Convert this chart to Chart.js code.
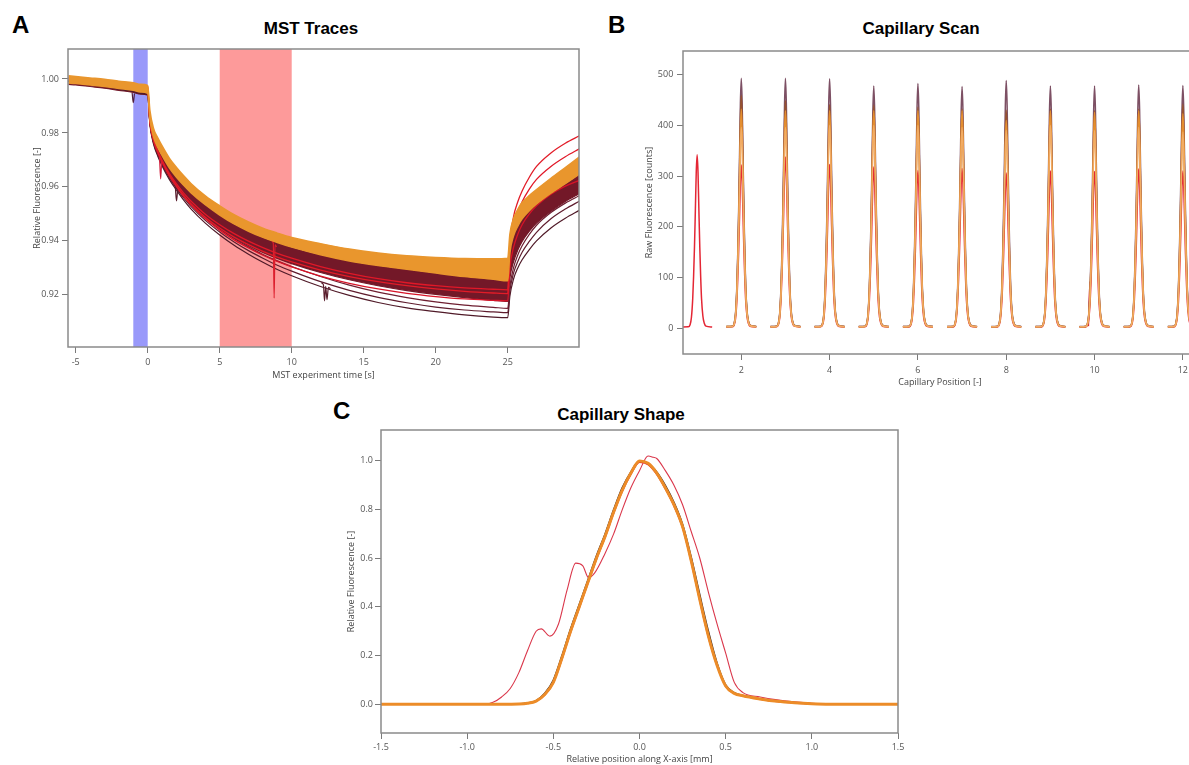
<!DOCTYPE html>
<html>
<head>
<meta charset="utf-8">
<script src="https://cdn.jsdelivr.net/npm/chart.js@4.4.1/dist/chart.umd.min.js"></script>
<style>
  body { margin: 0; width: 1189px; height: 765px; overflow: hidden; position: relative; background: #fff; font-family: "Liberation Sans", Arial, sans-serif; }
  .letter { position: absolute; font-weight: bold; font-size: 24px; line-height: 24px; color: #000; }
  .title { position: absolute; font-weight: bold; font-size: 17px; line-height: 17px; color: #000; transform: translateX(-50%); white-space: nowrap; }
  canvas { position: absolute; }
</style>
</head>
<body>
<div class="letter" style="left:12px;top:13px">A</div>
<div class="letter" style="left:608px;top:13px">B</div>
<div class="letter" style="left:333px;top:399px">C</div>
<div class="title" style="left:311px;top:20px">MST Traces</div>
<div class="title" style="left:921px;top:20px">Capillary Scan</div>
<div class="title" style="left:621px;top:406px">Capillary Shape</div>
<canvas id="chartA" width="600" height="390" style="left:0;top:0"></canvas>
<canvas id="chartB" width="600" height="392" style="left:600px;top:0"></canvas>
<canvas id="chartC" width="580" height="370" style="left:330px;top:395px"></canvas>
<script>
// ---------- Panel A: MST traces ----------
var aTime = [-5.5, -5, -4, -3, -2, -1, -0.5, 0, 0.15, 0.4, 0.7, 1, 1.5, 2, 2.5, 3, 4, 5, 6, 7, 8, 9, 10, 12, 14, 16, 18, 20, 22, 24, 25, 25.15, 25.4, 25.7, 26, 26.5, 27, 28, 29, 30];
var orangeTop = [1.0012, 1.0009, 1.0004, 0.9999, 0.9992, 0.9986, 0.9980, 0.9976,
  0.9885, 0.9818, 0.9782, 0.9752, 0.9707, 0.9672, 0.9641, 0.9613,
  0.9567, 0.9530, 0.9497, 0.9470, 0.9447, 0.9429, 0.9413, 0.9390, 0.9370, 0.9355, 0.9345, 0.9339, 0.9335, 0.9334, 0.9336,
  0.9425, 0.9482, 0.9517, 0.9542, 0.9568, 0.9590, 0.9632, 0.9672, 0.9712];
var orangeBottom = [0.9985, 0.9983, 0.9978, 0.9972, 0.9965, 0.9958, 0.9952, 0.9947,
  0.9852, 0.9786, 0.9746, 0.9716, 0.9671, 0.9636, 0.9606, 0.9579,
  0.9534, 0.9496, 0.9463, 0.9436, 0.9413, 0.9394, 0.9377, 0.9349, 0.9326, 0.9309, 0.9295, 0.9281, 0.9268, 0.9258, 0.9252,
  0.9355, 0.9418, 0.9455, 0.9482, 0.9512, 0.9537, 0.9577, 0.9612, 0.9648];
var maroonBottom = [0.9980, 0.9978, 0.9972, 0.9966, 0.9958, 0.9950, 0.9944, 0.9940,
  0.9838, 0.9768, 0.9724, 0.9690, 0.9640, 0.9600, 0.9566, 0.9536,
  0.9486, 0.9446, 0.9412, 0.9383, 0.9357, 0.9335, 0.9316, 0.9283, 0.9256, 0.9234, 0.9216, 0.9202, 0.9190, 0.9180, 0.9176,
  0.9262, 0.9322, 0.9366, 0.9398, 0.9436, 0.9466, 0.9510, 0.9546, 0.9576];
var dark1 = [0.9990, 0.9986, 0.9978, 0.9972, 0.9962, 0.9953, 0.9946, 0.9942,
  0.9832, 0.9760, 0.9714, 0.9678, 0.9628, 0.9588, 0.9551, 0.9519,
  0.9466, 0.9422, 0.9384, 0.9351, 0.9321, 0.9294, 0.9271, 0.9231, 0.9198, 0.9172, 0.9152, 0.9138, 0.9126, 0.9118, 0.9116,
  0.9195, 0.9258, 0.9300, 0.9330, 0.9368, 0.9400, 0.9448, 0.9484, 0.9514];
var dark2 = [0.9992, 0.9988, 0.9981, 0.9974, 0.9966, 0.9957, 0.9950, 0.9944,
  0.9836, 0.9764, 0.9719, 0.9684, 0.9634, 0.9595, 0.9559, 0.9528,
  0.9476, 0.9433, 0.9396, 0.9364, 0.9336, 0.9310, 0.9288, 0.9249, 0.9217, 0.9191, 0.9171, 0.9155, 0.9144, 0.9137, 0.9134,
  0.9215, 0.9280, 0.9324, 0.9358, 0.9398, 0.9432, 0.9482, 0.9518, 0.9548];
var dark3 = [0.9995, 0.9991, 0.9984, 0.9977, 0.9969, 0.9960, 0.9953, 0.9948,
  0.9840, 0.9770, 0.9726, 0.9691, 0.9642, 0.9603, 0.9568, 0.9538,
  0.9487, 0.9445, 0.9409, 0.9378, 0.9350, 0.9326, 0.9305, 0.9268, 0.9236, 0.9210, 0.9190, 0.9174, 0.9162, 0.9154, 0.9150,
  0.9232, 0.9300, 0.9348, 0.9382, 0.9424, 0.9458, 0.9505, 0.9540, 0.9568];
var red1 = [1.0006, 1.0004, 1.0000, 0.9994, 0.9988, 0.9982, 0.9978, 0.9972,
  0.9845, 0.9775, 0.9730, 0.9694, 0.9644, 0.9604, 0.9569, 0.9538,
  0.9488, 0.9448, 0.9414, 0.9386, 0.9361, 0.9340, 0.9322, 0.9292, 0.9268, 0.9249, 0.9234, 0.9222, 0.9213, 0.9207, 0.9205,
  0.9385, 0.9488, 0.9545, 0.9585, 0.9636, 0.9676, 0.9726, 0.9762, 0.9790];
var red2 = [0.9998, 0.9995, 0.9989, 0.9982, 0.9975, 0.9968, 0.9962, 0.9958,
  0.9842, 0.9772, 0.9727, 0.9692, 0.9641, 0.9601, 0.9565, 0.9534,
  0.9482, 0.9440, 0.9404, 0.9374, 0.9347, 0.9324, 0.9304, 0.9270, 0.9243, 0.9222, 0.9206, 0.9194, 0.9185, 0.9180, 0.9178,
  0.9300, 0.9375, 0.9425, 0.9460, 0.9500, 0.9530, 0.9573, 0.9603, 0.9625];
var red3 = [1.0002, 0.9999, 0.9993, 0.9987, 0.9980, 0.9974, 0.9968, 0.9963,
  0.9846, 0.9778, 0.9733, 0.9699, 0.9650, 0.9611, 0.9577, 0.9548,
  0.9499, 0.9460, 0.9427, 0.9399, 0.9375, 0.9354, 0.9336, 0.9305, 0.9280, 0.9260, 0.9245, 0.9234, 0.9226, 0.9221, 0.9219,
  0.9360, 0.9450, 0.9505, 0.9545, 0.9592, 0.9628, 0.9676, 0.9712, 0.9742];
// short glitches seen on single traces
var spikeRedT = [8.6, 8.72, 8.78, 8.84, 8.95];
var spikeRedV = [0.9400, 0.9392, 0.9188, 0.9385, 0.9378];
var spikeDarkT = [12.05, 12.2, 12.28, 12.36, 12.45, 12.55, 12.7];
var spikeDarkV = [0.9245, 0.9238, 0.9178, 0.9232, 0.9182, 0.9228, 0.9222];
var spikeEarlyT = [0.82, 0.9, 0.97];
var spikeEarlyV = [0.9712, 0.9630, 0.9700];
var spikeTwoT = [1.92, 2.0, 2.08];
var spikeTwoV = [0.9600, 0.9548, 0.9590];
var dipT = [-1.08, -1.0, -0.92];
var dipV = [0.9948, 0.9912, 0.9946];
var coldBand = [-1, 0];
var hotBand = [5, 10];
var aXTicks = [-5, 0, 5, 10, 15, 20, 25];
var aYTicks = [0.92, 0.94, 0.96, 0.98, 1.00];

// ---------- Panel B: capillary scan ----------
var capPositions = [1, 2, 3, 4, 5, 6, 7, 8, 9, 10, 11, 12];
var peakMauve = [null, 493, 493, 492, 478, 483, 477, 489, 478, 478, 480, 479];
var peakBrown = [null, 459, 449, 441, 440, 436, 432, 430, 432, 429, 432, 442];
var peakOrange = [null, 432, 429, 429, 429, 429, 429, 410, 429, 426, 429, 423];
var peakLight = [null, 396, 396, 400, 400, 400, 396, 390, 400, 390, 396, 387];
var peakRed = [342, 322, 338, 323, 318, 311, 315, 306, 310, 309, 314, 310];
var peakOffsets = [-0.34, -0.2, -0.16, -0.13, -0.1, -0.08, -0.06, -0.04, -0.02, 0, 0.02, 0.04, 0.06, 0.08, 0.1, 0.13, 0.16, 0.2, 0.34];
var peakShape = [0.007, 0.008, 0.02, 0.06, 0.17, 0.3, 0.47, 0.68, 0.9, 1, 0.9, 0.68, 0.47, 0.3, 0.17, 0.07, 0.03, 0.012, 0.007];
var glitchT = [9.86, 9.88, 9.9];
var glitchV = [4, 60, 92];
var bXTicks = [2, 4, 6, 8, 10, 12];
var bYTicks = [0, 100, 200, 300, 400, 500];

// ---------- Panel C: capillary shape ----------
var shapeX = [-1.5, -0.8, -0.7, -0.65, -0.6, -0.55, -0.5, -0.45, -0.4, -0.35, -0.3, -0.25, -0.2, -0.15, -0.1, -0.05, 0, 0.05, 0.1, 0.15, 0.2, 0.25, 0.3, 0.35, 0.4, 0.45, 0.5, 0.55, 0.6, 0.7, 0.8, 0.9, 1.0, 1.1, 1.5];
var shapeOrange = [0, 0, 0.001, 0.004, 0.013, 0.04, 0.09, 0.19, 0.3, 0.4, 0.5, 0.6, 0.69, 0.79, 0.88, 0.95, 1.0, 0.99, 0.95, 0.89, 0.82, 0.73, 0.59, 0.43, 0.28, 0.16, 0.075, 0.045, 0.035, 0.022, 0.012, 0.006, 0.002, 0, 0];
var shapeDark = [0, 0, 0.001, 0.005, 0.015, 0.045, 0.1, 0.2, 0.31, 0.41, 0.51, 0.61, 0.7, 0.8, 0.89, 0.955, 1.0, 0.99, 0.955, 0.9, 0.83, 0.74, 0.605, 0.45, 0.3, 0.17, 0.08, 0.048, 0.036, 0.022, 0.012, 0.006, 0.002, 0, 0];
var shapeRed = [0, 0, 0.001, 0.004, 0.012, 0.038, 0.088, 0.185, 0.295, 0.395, 0.495, 0.595, 0.685, 0.785, 0.875, 0.945, 0.995, 0.985, 0.945, 0.885, 0.815, 0.725, 0.585, 0.425, 0.275, 0.158, 0.074, 0.044, 0.034, 0.021, 0.011, 0.005, 0.002, 0, 0];
var outlierX = [-1.5, -0.9, -0.85, -0.8, -0.75, -0.7, -0.65, -0.6, -0.57, -0.52, -0.47, -0.42, -0.37, -0.33, -0.295, -0.26, -0.2, -0.15, -0.1, -0.05, 0, 0.05, 0.08, 0.1, 0.15, 0.2, 0.25, 0.3, 0.35, 0.4, 0.45, 0.5, 0.55, 0.6, 0.7, 0.8, 0.9, 1.0, 1.1, 1.5];
var outlierY = [0, 0, 0.008, 0.03, 0.065, 0.13, 0.22, 0.3, 0.31, 0.28, 0.33, 0.47, 0.58, 0.57, 0.52, 0.54, 0.62, 0.7, 0.8, 0.89, 0.96, 1.02, 1.015, 1.01, 0.96, 0.9, 0.82, 0.71, 0.6, 0.46, 0.33, 0.21, 0.09, 0.048, 0.03, 0.018, 0.01, 0.004, 0, 0];
var cXTicks = [-1.5, -1.0, -0.5, 0.0, 0.5, 1.0, 1.5];
var cYTicks = [0.0, 0.2, 0.4, 0.6, 0.8, 1.0];

// ---------- helpers ----------
var axisFont = { family: 'Open Sans', size: 9 };

function pairs(xs, ys) {
  return xs.map(function (x, i) { return { x: x, y: ys[i] }; });
}

function makeScale(o) {
  return {
    type: 'linear',
    min: o.min,
    max: o.max,
    afterBuildTicks: function (scale) {
      scale.ticks = o.ticks.map(function (v) { return { value: v }; });
    },
    afterFit: function (scale) {
      if (o.width) scale.width = o.width;
      if (o.height) scale.height = o.height;
    },
    grid: { display: true, drawOnChartArea: false, drawTicks: true, tickLength: 6, color: '#7a7a7a', lineWidth: 1 },
    border: { display: false },
    ticks: { font: axisFont, color: '#555', padding: o.pad, maxRotation: 0, minRotation: 0, autoSkip: false, callback: o.fmt },
    title: { display: true, text: o.title, font: axisFont, color: '#444', padding: o.titlePad }
  };
}

var framePlugin = {
  id: 'frame',
  afterDatasetsDraw: function (chart) {
    var a = chart.chartArea, ctx = chart.ctx;
    ctx.save();
    ctx.strokeStyle = '#8a8a8a';
    ctx.lineWidth = 1.5;
    ctx.strokeRect(a.left, a.top, a.right - a.left, a.bottom - a.top);
    ctx.restore();
  }
};

function baseOptions(padding, xScale, yScale) {
  return {
    responsive: false,
    animation: false,
    devicePixelRatio: 1,
    layout: { padding: padding, autoPadding: false },
    plugins: { legend: { display: false }, tooltip: { enabled: false } },
    elements: { point: { radius: 0 } },
    scales: { x: xScale, y: yScale }
  };
}

function line(data, color, width, order, extra) {
  var ds = { data: data, borderColor: color, backgroundColor: color, borderWidth: width, fill: false, order: order, cubicInterpolationMode: 'monotone' };
  for (var k in extra) ds[k] = extra[k];
  return ds;
}

// ---------- chart A ----------
var bandPlugin = {
  id: 'bands',
  beforeDatasetsDraw: function (chart) {
    var x = chart.scales.x, a = chart.chartArea, ctx = chart.ctx;
    ctx.save();
    ctx.fillStyle = 'rgb(153,153,250)';
    ctx.fillRect(x.getPixelForValue(coldBand[0]), a.top, x.getPixelForValue(coldBand[1]) - x.getPixelForValue(coldBand[0]), a.bottom - a.top);
    ctx.fillStyle = 'rgb(253,154,154)';
    ctx.fillRect(x.getPixelForValue(hotBand[0]), a.top, x.getPixelForValue(hotBand[1]) - x.getPixelForValue(hotBand[0]), a.bottom - a.top);
    ctx.restore();
  }
};

var orange = 'rgb(233,150,45)';
new Chart(document.getElementById('chartA').getContext('2d'), {
  type: 'line',
  data: {
    datasets: [
      line(pairs(aTime, orangeTop), orange, 1.5, 1, { fill: 1, backgroundColor: orange }),
      line(pairs(aTime, orangeBottom), orange, 1.5, 2),
      line(pairs(aTime, red1), 'rgb(226,28,40)', 1.3, 3),
      line(pairs(aTime, red3), 'rgb(225,24,40)', 1.3, 4),
      line(pairs(aTime, red2), 'rgb(215,20,40)', 1.3, 5),
      line(pairs(spikeRedT, spikeRedV), 'rgb(220,30,45)', 1.2, 3),
      line(pairs(spikeEarlyT, spikeEarlyV), 'rgb(210,30,60)', 1.2, 3),
      line(pairs(spikeDarkT, spikeDarkV), 'rgb(90,30,45)', 1.2, 6),
      line(pairs(spikeTwoT, spikeTwoV), 'rgb(90,30,45)', 1.2, 6),
      line(pairs(dipT, dipV), 'rgb(80,30,60)', 1.2, 6),
      line(pairs(aTime, dark3), 'rgb(110,30,48)', 1.2, 6),
      line(pairs(aTime, dark2), 'rgb(95,28,45)', 1.2, 7),
      line(pairs(aTime, dark1), 'rgb(80,26,40)', 1.2, 8),
      line(pairs(aTime, maroonBottom), 'rgb(115,24,40)', 1.2, 9, { fill: 1, backgroundColor: 'rgb(115,24,40)' })
    ]
  },
  options: baseOptions({ left: 0, top: 49, right: 21, bottom: 0 },
    makeScale({ min: -5.535, max: 29.95, ticks: aXTicks, height: 43, pad: 4.5, title: 'MST experiment time [s]', titlePad: { top: 0, bottom: 9.6 },
      fmt: function (v) { return String(v); } }),
    makeScale({ min: 0.9007, max: 1.0111, ticks: aYTicks, width: 68, pad: 3, title: 'Relative Fluorescence [-]', titlePad: { top: 32, bottom: 0 },
      fmt: function (v) { return v.toFixed(2); } })),
  plugins: [bandPlugin, framePlugin]
});

// ---------- chart B ----------
function scanTrace(heights) {
  var pts = [];
  capPositions.forEach(function (c, i) {
    if (heights[i] === null) return;
    peakOffsets.forEach(function (off, j) {
      pts.push({ x: c + off, y: heights[i] * peakShape[j] });
    });
    pts.push({ x: c + 0.5, y: null });
  });
  return pts;
}

new Chart(document.getElementById('chartB').getContext('2d'), {
  type: 'line',
  data: {
    datasets: [
      line(scanTrace(peakLight), 'rgb(242,172,100)', 1.5, 1, { spanGaps: false }),
      line(scanTrace(peakOrange), 'rgb(228,142,48)', 1.5, 2, { spanGaps: false }),
      line(scanTrace(peakBrown), 'rgb(150,82,48)', 1.5, 3, { spanGaps: false }),
      line(scanTrace(peakMauve), 'rgb(125,80,100)', 1.5, 4, { spanGaps: false }),
      line(scanTrace(peakRed), 'rgb(228,38,52)', 1.5, 5, { spanGaps: false }),
      line(pairs(glitchT, glitchV), 'rgb(210,40,50)', 1.5, 5)
    ]
  },
  options: baseOptions({ left: 0, top: 51, right: 3, bottom: 0 },
    makeScale({ min: 0.68, max: 12.32, ticks: bXTicks, height: 38, pad: 4.6, title: 'Capillary Position [-]', titlePad: { top: 0, bottom: 3.9 },
      fmt: function (v) { return String(v); } }),
    makeScale({ min: -51, max: 547, ticks: bYTicks, width: 83, pad: 3.7, title: 'Raw Fluorescence [counts]', titlePad: { top: 44, bottom: 0 },
      fmt: function (v) { return String(v); } })),
  plugins: [framePlugin]
});

// ---------- chart C ----------
new Chart(document.getElementById('chartC').getContext('2d'), {
  type: 'line',
  data: {
    datasets: [
      line(pairs(shapeX, shapeOrange), 'rgb(236,140,40)', 3, 1),
      line(pairs(shapeX, shapeDark), 'rgb(50,38,38)', 1.5, 2),
      line(pairs(shapeX, shapeRed), 'rgb(230,30,30)', 1.5, 3),
      line(pairs(outlierX, outlierY), 'rgb(218,55,75)', 1.1, 4)
    ]
  },
  options: baseOptions({ left: 0, top: 35, right: 12, bottom: 0 },
    makeScale({ min: -1.5, max: 1.5, ticks: cXTicks, height: 32, pad: 2.6, title: 'Relative position along X-axis [mm]', titlePad: { top: 0, bottom: 0.6 },
      fmt: function (v) { return v.toFixed(1); } }),
    makeScale({ min: -0.118, max: 1.127, ticks: cYTicks, width: 51, pad: 2, title: 'Relative Fluorescence [-]', titlePad: { top: 16, bottom: 0 },
      fmt: function (v) { return v.toFixed(1); } })),
  plugins: [framePlugin]
});
</script>
</body>
</html>
